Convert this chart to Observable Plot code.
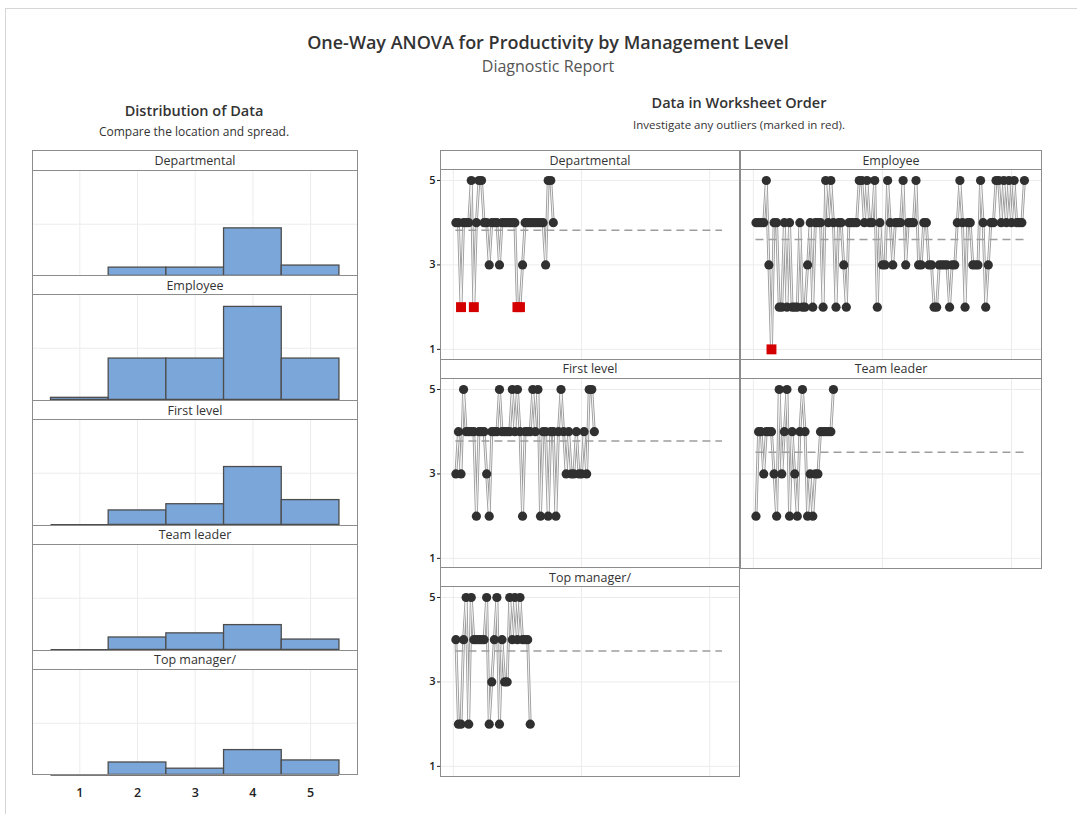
<!DOCTYPE html>
<html><head><meta charset="utf-8">
<script src="https://cdn.jsdelivr.net/npm/d3@7"></script>
<script src="https://cdn.jsdelivr.net/npm/@observablehq/plot@0.6"></script>
<style>
body{margin:0;background:#fff;font-family:"Open Sans","Noto Sans",sans-serif;}
#root{position:relative;width:1077px;height:814px;overflow:hidden;background:#fff;}
.frame{position:absolute;left:5px;top:8px;width:1100px;height:900px;border-top:1px solid #d6d6d6;border-left:1px solid #d6d6d6;}
.t{position:absolute;white-space:nowrap;transform:translate(-50%,-50%);line-height:1;}
.strip{position:absolute;box-sizing:border-box;border:1px solid #8c8c8c;background:#fff;display:flex;align-items:center;justify-content:center;font-size:12.5px;color:#333;}
.box{position:absolute;box-sizing:border-box;border:1px solid #8c8c8c;pointer-events:none;}
</style></head><body><div id="root"><div class="frame"></div></div>
<script>
// ---------- data ----------
const groups = ["Departmental", "Employee", "First level", "Team leader", "Top manager/"];
const histBins = [1, 2, 3, 4, 5];
// histogram counts per bin (1..5), read from "Distribution of Data"
const histDepartmental = [0, 4, 4, 23, 5];
const histEmployee     = [1, 20, 20, 45, 20];
const histFirstLevel   = [0, 7, 10, 28, 12];
const histTeamLeader   = [0, 6, 8, 12, 5];
const histTopManager   = [0, 6, 3, 12, 7];
// observations in worksheet order
const seqDepartmental = [4,4,2,4,4,4,5,2,4,5, 5,4,4,3,4,4,4,3,4,4, 4,4,4,4,2,2,3,4,4,4, 4,4,4,4,4,3,5,5,4];
const seqEmployee = [4,4,4,4,5,3,1,4,4,2, 2,4,2,4,2,2,2,4,2,2, 3,4,2,4,4,4,2,5,4,5, 4,2,4,4,3,2,4,4,4,4,
  5,5,4,5,4,4,5,2,4,3, 3,5,4,3,4,4,4,5,3,4, 4,4,5,3,3,4,4,3,3,2, 2,3,3,3,3,2,3,3,4,5,
  4,2,4,4,3,3,3,5,4,2, 3,4,4,5,5,4,5,4,5,4, 5,4,4,4,5];
const seqFirstLevel = [3,4,3,5,4,4,4,4,2,4, 4,4,3,2,4,4,4,5,4,4, 4,4,5,4,5,4,2,4,4,4,
  5,4,5,2,4,4,2,4,4,2, 4,5,4,3,4,3,3,4,3,3, 4,3,5,5,4];
const seqTeamLeader = [2,4,4,3,4,4,4,3,2,5, 3,4,5,2,4,3,2,4,5,4, 2,3,2,3,3,4,4,4,4,4, 5];
const seqTopManager = [4,2,2,4,5,2,5,4,4,4, 4,4,5,2,3,4,5,2,4,3, 3,5,4,5,4,5,4,4,4,2];
// values at or below this are flagged as outliers (red squares)
const outlierAtOrBelow = [2, 1, null, null, null];

const hists = [histDepartmental, histEmployee, histFirstLevel, histTeamLeader, histTopManager];
const seqs = [seqDepartmental, seqEmployee, seqFirstLevel, seqTeamLeader, seqTopManager];

// ---------- layout helpers ----------
const root = document.getElementById("root");
const FONT = "'Open Sans','Noto Sans',sans-serif";
function text(str, cx, cy, size, weight, color) {
  const d = document.createElement("div");
  d.className = "t";
  d.textContent = str;
  Object.assign(d.style, {left: cx + "px", top: cy + "px", fontSize: size + "px", fontWeight: weight, color});
  root.appendChild(d);
}
function strip(str, left, top, w, h) {
  const d = document.createElement("div");
  d.className = "strip";
  d.textContent = str;
  Object.assign(d.style, {left: left + "px", top: top + "px", width: w + "px", height: h + "px"});
  root.appendChild(d);
}
function box(left, top, w, h) {
  const d = document.createElement("div");
  d.className = "box";
  Object.assign(d.style, {left: left + "px", top: top + "px", width: w + "px", height: h + "px"});
  root.appendChild(d);
}
function place(el, left, top) {
  el.style.position = "absolute";
  el.style.left = left + "px";
  el.style.top = top + "px";
  root.appendChild(el);
}

// ---------- titles ----------
text("One-Way ANOVA for Productivity by Management Level", 548, 42, 18, 600, "#333");
text("Diagnostic Report", 548, 66, 16, 400, "#555");
text("Distribution of Data", 194, 111, 14.5, 600, "#333");
text("Compare the location and spread.", 194, 132, 12, 400, "#333");
text("Data in Worksheet Order", 739, 103, 14.5, 600, "#333");
text("Investigate any outliers (marked in red).", 739, 125, 11.5, 400, "#333");

// ---------- histograms ----------
const HL = 32, HW = 326, HP = 124.9, HS = 19.5, HH = 105.4;
hists.forEach((counts, k) => {
  const last = k === hists.length - 1;
  const data = histBins.map((b, i) => ({x1: b - 0.5, x2: b + 0.5, n: counts[i]}));
  const st = 150 + k * HP;
  const pt = st + HS;
  const svg = Plot.plot({
    width: HW, height: HH + (last ? 30 : 0),
    marginLeft: 0, marginRight: 0, marginTop: 0, marginBottom: last ? 30 : 0,
    style: {background: "transparent", overflow: "visible", fontFamily: FONT, fontSize: "12.5px", color: "#222", fontWeight: 600},
    x: {domain: [0.18, 5.83], ticks: histBins, tickSize: 0, tickPadding: 13, tickFormat: d => String(d), label: null, axis: last ? "bottom" : null},
    y: {domain: [0, 51], axis: null},
    marks: [
      Plot.ruleX(histBins, {stroke: "#ececec", strokeWidth: 1}),
      Plot.ruleY([25], {stroke: "#ececec", strokeWidth: 1}),
      Plot.rectY(data.filter(d => d.n > 0), {x1: "x1", x2: "x2", y: "n", fill: "#7ba6d9", stroke: "#4d4d4d", strokeWidth: 1.3}),
      Plot.ruleY([0], {x1: () => 0.5, x2: () => 5.5, stroke: "#4d4d4d", strokeWidth: 1.6})
    ]
  });
  place(svg, HL, pt);
  strip(groups[k], HL, st, HW, HS + 1);
  box(HL, pt, HW, HH + 1);
});

// ---------- worksheet order ----------
const colLeft = [440, 740], colW = [300, 302];
const RP = 208.5, RS = 19, RH = 190;
const maxN = d3.max(seqs, s => s.length);
seqs.forEach((seq, k) => {
  const col = k % 2, row = Math.floor(k / 2);
  const showY = col === 0;
  const data = seq.map((v, i) => ({i: i + 1, v}));
  const mean = d3.mean(seq);
  const lim = outlierAtOrBelow[k];
  const isOut = d => lim != null && d.v <= lim;
  const ml = showY ? 30 : 0;
  const st = 150 + row * RP;
  const pt = st + RS;
  const svg = Plot.plot({
    width: colW[col] + ml, height: RH,
    marginLeft: ml, marginRight: 0, marginTop: 0, marginBottom: 0,
    style: {background: "transparent", overflow: "visible", fontFamily: FONT, fontSize: "11px", color: "#222", fontWeight: 600},
    x: {domain: [-5, 112], axis: null},
    y: {domain: [0.76, 5.26], ticks: [1, 3, 5], tickSize: 3, tickPadding: 2, tickFormat: d => String(d), label: null, axis: showY ? "left" : null},
    marks: [
      Plot.ruleX([0, 50, 100], {stroke: "#ececec"}),
      Plot.ruleY([1, 3, 5], {stroke: "#ececec"}),
      Plot.line(data, {x: "i", y: "v", stroke: "#9b9b9b", strokeWidth: 2.8}),
      Plot.line(data, {x: "i", y: "v", stroke: "#ffffff", strokeWidth: 0.9}),
      Plot.ruleY([mean], {x1: () => 1, x2: () => maxN, stroke: "#9d9d9d", strokeWidth: 1.5, strokeDasharray: "8,5"}),
      Plot.dot(data.filter(d => !isOut(d)), {x: "i", y: "v", r: 4.6, fill: "#303030"}),
      Plot.dot(data.filter(isOut), {x: "i", y: "v", r: 5.6, symbol: "square", fill: "#d40000"})
    ]
  });
  place(svg, colLeft[col] - ml, pt);
  strip(groups[k], colLeft[col], st, colW[col], RS + 1);
  box(colLeft[col], pt, colW[col], RH + 1);
});
</script>
</body></html>
